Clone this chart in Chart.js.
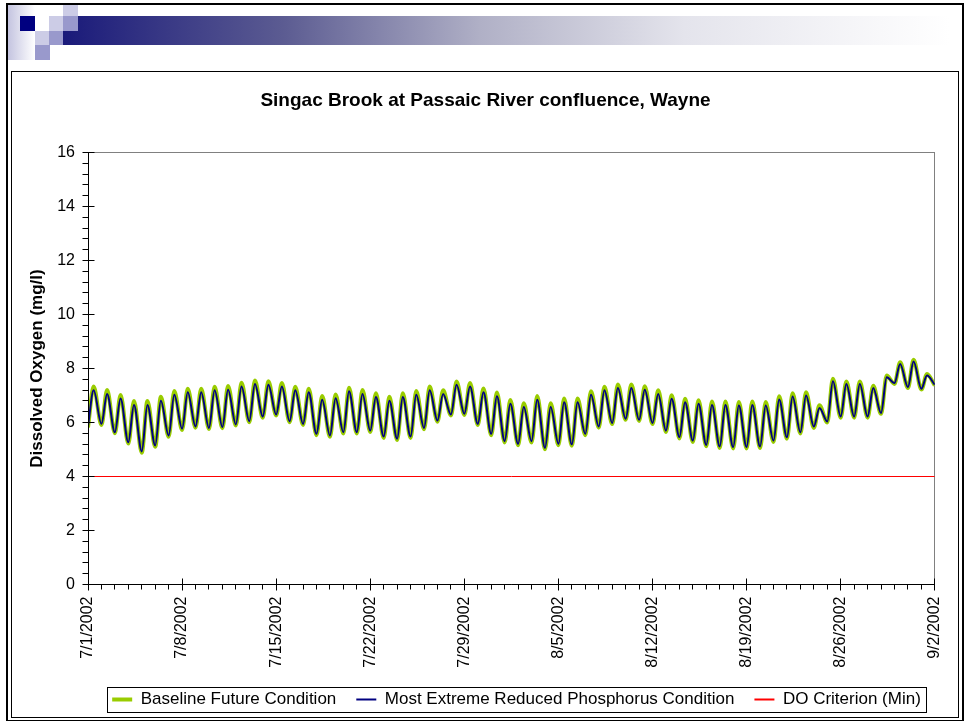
<!DOCTYPE html>
<html lang="en">
<head>
<meta charset="UTF-8">
<title>Singac Brook at Passaic River confluence, Wayne</title>
<script src="https://cdn.jsdelivr.net/npm/chart.js"></script>
<style>
  body { margin: 0; background: #fff; }
  #page { position: relative; width: 966px; height: 721px; overflow: hidden; background: #fff; }
  #page div { position: absolute; box-sizing: border-box; }
  .outer { left: 6px; top: 3px; width: 958px; height: 718px; border: 2px solid #000; border-bottom-width: 1px; }
  .inner { left: 11px; top: 71px; width: 948px; height: 647px; border: 1px solid #000; }
  .col { left: 8px; top: 5px; width: 27px; height: 55px; background: linear-gradient(to right, #c4c4e0, #ffffff); }
  .bar { left: 63px; top: 16px; width: 887px; height: 29px;
         background: linear-gradient(to right, #1a1a7a 0%, #5c5c92 25%, #b0b0c6 47%, #e4e4ec 70%, #ffffff 100%); }
  .navy { background: #000080; }
  .light { background: #ccccE6; }
  .mid { background: #9999cc; }
  .white { background: #fff; }
  canvas { position: absolute; left: 0; top: 0; }
</style>
</head>
<body>
<div id="page">
  <div class="outer"></div>
  <div class="col"></div>
  <div class="bar"></div>
  <div class="navy"  style="left:20px;top:16px;width:15px;height:15px"></div>
  <div class="white" style="left:35px;top:16px;width:14px;height:15px"></div>
  <div class="light" style="left:49px;top:16px;width:14px;height:15px"></div>
  <div class="light" style="left:63px;top:5px;width:15px;height:11px"></div>
  <div class="mid"   style="left:63px;top:16px;width:15px;height:15px"></div>
  <div class="light" style="left:35px;top:31px;width:14px;height:14px"></div>
  <div class="mid"   style="left:49px;top:31px;width:14px;height:14px"></div>
  <div class="mid"   style="left:35px;top:45px;width:15px;height:15px"></div>
  <div class="inner"></div>
  <canvas id="doChart" width="966" height="721"></canvas>
</div>

<script>
    // x axis is days since 7/1/2002; each day has a minimum near midnight and a maximum late morning
    const tickLabels = ['7/1/2002', '7/8/2002', '7/15/2002', '7/22/2002', '7/29/2002',
                        '8/5/2002', '8/12/2002', '8/19/2002', '8/26/2002', '9/2/2002'];
    const peakAt = 0.42;   // fraction of the day where the daily high sits

    // Most Extreme Reduced Phosphorus Condition (mg/l)
    const blueStart = 5.86;
    const blueHigh = [7.19, 7.06, 6.89, 6.65, 6.65, 6.81, 7.03, 7.12, 7.12, 7.19,
                      7.21, 7.33, 7.43, 7.40, 7.33, 7.19, 7.12, 6.84, 6.90, 7.16,
                      7.06, 6.94, 6.81, 6.94, 7.03, 7.19, 7.06, 7.40, 7.33, 7.12,
                      6.97, 6.69, 6.57, 6.84, 6.57, 6.75, 6.75, 7.03, 7.19, 7.28,
                      7.28, 7.21, 7.06, 6.88, 6.75, 6.69, 6.65, 6.65, 6.63, 6.65,
                      6.63, 6.85, 6.96, 7.00, 6.54, 7.53, 7.43, 7.43, 7.28, 7.68,
                      8.17, 8.26, 7.74];
    const blueLow = [5.95, 5.64, 5.27, 4.93, 5.15, 5.52, 5.77, 5.85, 5.80, 5.83,
                     5.93, 6.05, 6.22, 6.30, 6.05, 5.95, 5.58, 5.52, 5.64, 5.64,
                     5.70, 5.48, 5.40, 5.48, 5.80, 6.07, 6.30, 6.32, 5.95, 5.58,
                     5.31, 5.21, 5.31, 5.06, 5.21, 5.19, 5.58, 5.85, 5.98, 6.14,
                     6.10, 5.98, 5.70, 5.46, 5.33, 5.17, 5.11, 5.09, 5.09, 5.11,
                     5.33, 5.45, 5.64, 5.85, 6.04, 6.22, 6.22, 6.22, 6.35, 7.46,
                     7.31, 7.25, 7.40];

    // Baseline Future Condition (mg/l)
    const greenStart = 5.82;
    const greenHigh = [7.33, 7.20, 7.02, 6.80, 6.80, 6.95, 7.17, 7.25, 7.25, 7.32,
                       7.35, 7.47, 7.56, 7.53, 7.46, 7.32, 7.25, 6.98, 7.04, 7.29,
                       7.20, 7.08, 6.95, 7.08, 7.17, 7.33, 7.19, 7.52, 7.46, 7.26,
                       7.11, 6.83, 6.71, 6.98, 6.71, 6.89, 6.89, 7.16, 7.32, 7.41,
                       7.41, 7.34, 7.19, 7.01, 6.88, 6.82, 6.78, 6.78, 6.76, 6.78,
                       6.76, 6.97, 7.08, 7.12, 6.64, 7.62, 7.52, 7.52, 7.36, 7.74,
                       8.23, 8.32, 7.80];
    const greenLow = [5.91, 5.60, 5.22, 4.88, 5.10, 5.47, 5.72, 5.81, 5.76, 5.79,
                      5.89, 6.01, 6.18, 6.26, 6.01, 5.91, 5.53, 5.47, 5.59, 5.59,
                      5.65, 5.43, 5.35, 5.43, 5.75, 6.03, 6.26, 6.28, 5.91, 5.53,
                      5.26, 5.16, 5.26, 5.01, 5.16, 5.14, 5.53, 5.81, 5.94, 6.10,
                      6.06, 5.94, 5.65, 5.41, 5.28, 5.12, 5.06, 5.04, 5.04, 5.06,
                      5.28, 5.40, 5.59, 5.80, 6.00, 6.18, 6.18, 6.18, 6.32, 7.43,
                      7.28, 7.22, 7.37];

    // DO criterion (minimum)
    const criterion = 4;

    function dailyCurve(start, highs, lows) {
        const pts = [{ x: 0, y: start }];
        highs.forEach((h, d) => {
            pts.push({ x: d + peakAt, y: h });
            pts.push({ x: d + 1, y: lows[d] });
        });
        return pts;
    }

    const lastDay = (tickLabels.length - 1) * 7;
    const FONT = 'Arial, "Liberation Sans", sans-serif';

    // gray plot box, black axes, major/minor tick marks, box around legend
    const chartDressing = {
        id: 'chartDressing',
        afterLayout(chart) {
            chart.legend.left += 43;
            chart.legend.right += 43;
            chart.titleBlock.left += 12;
            chart.titleBlock.right += 12;
        },
        beforeDatasetsDraw(chart) {
            const { ctx, chartArea: a } = chart;
            ctx.save();
            ctx.strokeStyle = '#808080';
            ctx.lineWidth = 1;
            ctx.strokeRect(Math.floor(a.left) + 0.5, Math.floor(a.top) + 0.5,
                           Math.floor(a.right) - Math.floor(a.left), Math.floor(a.bottom) - Math.floor(a.top));
            ctx.restore();
        },
        afterDraw(chart) {
            const { ctx, chartArea: a, scales: { x, y } } = chart;
            const L = Math.floor(a.left) + 0.5, B = Math.floor(a.bottom) + 0.5;
            ctx.save();
            ctx.strokeStyle = '#000';
            ctx.lineWidth = 1;
            ctx.beginPath();
            ctx.moveTo(L, Math.floor(a.top)); ctx.lineTo(L, B);
            ctx.lineTo(Math.floor(a.right) + 1, B);
            for (let d = 0; d <= lastDay; d++) {
                const px = Math.floor(x.getPixelForValue(d)) + 0.5;
                if (d % 7 === 0) { ctx.moveTo(px, B - 6); ctx.lineTo(px, B + 6); }
                else { ctx.moveTo(px, B); ctx.lineTo(px, B + 5); }
            }
            for (let i = 0; i <= 40; i++) {
                const py = Math.floor(y.getPixelForValue(i * 0.4)) + 0.5;
                if (i % 5 === 0) { ctx.moveTo(L - 6, py); ctx.lineTo(L + 6, py); }
                else { ctx.moveTo(L - 6, py); ctx.lineTo(L, py); }
            }
            ctx.stroke();

            const hb = chart.legend.legendHitBoxes;
            const l = Math.min(...hb.map(h => h.left)) - 5;
            const r = Math.max(...hb.map(h => h.left + h.width)) + 5;
            const t = hb[0].top - 4, b = hb[0].top + hb[0].height + 4;
            ctx.strokeRect(Math.round(l) + 0.5, Math.round(t) + 0.5, Math.round(r - l), Math.round(b - t));
            ctx.restore();
        }
    };

    const ctx = document.getElementById('doChart').getContext('2d');
    const chart = new Chart(ctx, {
        type: 'line',
        data: {
            datasets: [{
                label: 'Baseline Future Condition',
                data: dailyCurve(greenStart, greenHigh, greenLow),
                borderColor: '#99cc00',
                borderWidth: 4,
                order: 3
            }, {
                label: 'Most Extreme Reduced Phosphorus Condition',
                data: dailyCurve(blueStart, blueHigh, blueLow),
                borderColor: '#000080',
                borderWidth: 2,
                order: 2
            }, {
                label: 'DO Criterion (Min)',
                data: [{ x: 0, y: criterion }, { x: lastDay, y: criterion }],
                borderColor: '#ff0000',
                borderWidth: 1,
                order: 1
            }]
        },
        options: {
            responsive: false,
            animation: false,
            devicePixelRatio: 1,
            parsing: false,
            elements: {
                point: { radius: 0 },
                line: { cubicInterpolationMode: 'monotone', fill: false }
            },
            layout: { padding: { left: 12, right: 31, top: 72, bottom: 3 } },
            plugins: {
                tooltip: { enabled: false },
                title: {
                    display: true,
                    text: 'Singac Brook at Passaic River confluence, Wayne',
                    color: '#000',
                    font: { family: FONT, size: 19, weight: 'bold' },
                    padding: { top: 17.6, bottom: 40.1 }
                },
                legend: {
                    position: 'bottom',
                    labels: {
                        color: '#000',
                        font: { family: FONT, size: 17 },
                        usePointStyle: true,
                        pointStyle: 'line',
                        pointStyleWidth: 20,
                        padding: 20,
                        sort: (a, b) => a.datasetIndex - b.datasetIndex,
                        generateLabels: c => Chart.defaults.plugins.legend.labels.generateLabels(c)
                            .map(item => ({ ...item, lineWidth: Math.max(item.lineWidth, 2) }))
                    }
                }
            },
            scales: {
                x: {
                    type: 'linear',
                    min: 0,
                    max: lastDay,
                    afterFit: s => { s.height = 86.5; },
                    grid: { display: false, drawTicks: false },
                    border: { display: false },
                    ticks: {
                        stepSize: 7,
                        autoSkip: false,
                        minRotation: 90,
                        maxRotation: 90,
                        padding: 12,
                        color: '#000',
                        font: { family: FONT, size: 16 },
                        callback: v => tickLabels[Math.round(v / 7)]
                    }
                },
                y: {
                    min: 0,
                    max: 16,
                    afterFit: s => { s.width = 76; },
                    grid: { display: false, drawTicks: false },
                    border: { display: false },
                    ticks: {
                        stepSize: 2,
                        padding: 13,
                        color: '#000',
                        font: { family: FONT, size: 16 }
                    },
                    title: {
                        display: true,
                        text: 'Dissolved Oxygen (mg/l)',
                        color: '#000',
                        font: { family: FONT, size: 17, weight: 'bold' },
                        padding: { top: 14.8, bottom: 0 }
                    }
                }
            }
        },
        plugins: [chartDressing]
    });
</script>
</body>
</html>
